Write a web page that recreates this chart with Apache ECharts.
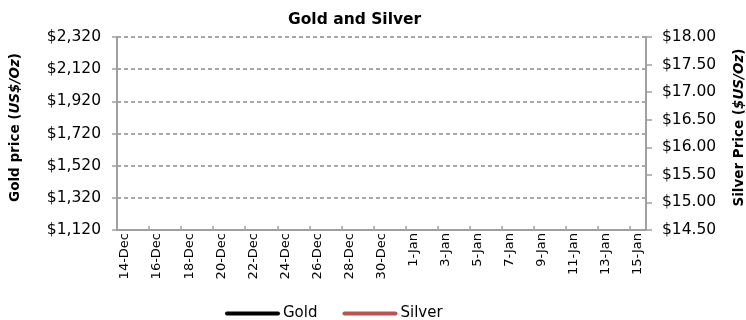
<!DOCTYPE html>
<html>
<head>
<meta charset="utf-8">
<script src="https://cdn.jsdelivr.net/npm/echarts@6/dist/echarts.min.js"></script>
<style>html,body{margin:0;padding:0;background:#fff}#c{width:746px;height:320px}</style>
</head>
<body>
<div id="c"></div>
<script>
var categories = ['14-Dec','15-Dec','16-Dec','17-Dec','18-Dec','19-Dec','20-Dec','21-Dec','22-Dec','23-Dec','24-Dec','25-Dec','26-Dec','27-Dec','28-Dec','29-Dec','30-Dec','31-Dec','1-Jan','2-Jan','3-Jan','4-Jan','5-Jan','6-Jan','7-Jan','8-Jan','9-Jan','10-Jan','11-Jan','12-Jan','13-Jan','14-Jan','15-Jan'];
var goldPrices = [];
var silverPrices = [];
var goldTicks = {min: 1120, max: 2320, interval: 200};
var silverTicks = {min: 14.5, max: 18, interval: 0.5};

var FONT = '"DejaVu Sans", Verdana, sans-serif';
var CAPSULE = 'path://M2,0 L53,0 A2,2 0 0 1 53,4 L2,4 A2,2 0 0 1 2,0 Z';
var chart = echarts.init(document.getElementById('c'), null, {renderer: 'canvas'});
chart.setOption({
  animation: false,
  title: {
    text: 'Gold and Silver', left: 283, top: 7,
    textStyle: {fontFamily: FONT, fontSize: 15.5, fontWeight: 'bold', color: '#000'}
  },
  legend: {
    top: 301, left: 220, itemGap: 25, itemWidth: 55, itemHeight: 4,
    icon: CAPSULE,
    textStyle: {fontFamily: FONT, fontSize: 15, color: '#000', padding: [0, 0, 0, -2]},
    data: [{name: 'Gold', itemStyle: {color: '#000000'}}, {name: 'Silver', itemStyle: {color: '#C0504D'}}]
  },
  grid: {left: 117, right: 100, top: 37, bottom: 90, containLabel: false, outerBoundsMode: 'none'},
  xAxis: {
    type: 'category', data: categories, boundaryGap: true,
    axisLine: {lineStyle: {color: '#A0A0A0', width: 2}},
    axisTick: {show: true, interval: 1, inside: true, length: 4, lineStyle: {color: '#A0A0A0', width: 1.5}},
    axisLabel: {interval: 1, rotate: 90, fontFamily: FONT, fontSize: 13, color: '#000', margin: 3},
    splitLine: {show: false}
  },
  yAxis: [{
    type: 'value', position: 'left',
    min: goldTicks.min, max: goldTicks.max, interval: goldTicks.interval,
    name: '{b|Gold price (}{bi|US$/Oz}{b|)}', nameLocation: 'middle', nameRotate: 90, nameGap: 95,
    nameTextStyle: {padding: [0, 0, 0, 12], rich: {
      b: {fontFamily: FONT, fontSize: 13.5, fontWeight: 'bold', color: '#000'},
      bi: {fontFamily: FONT, fontSize: 13.5, fontWeight: 'bold', fontStyle: 'italic', color: '#000'}
    }},
    axisLine: {show: true, lineStyle: {color: '#A0A0A0', width: 2}},
    axisTick: {show: true, length: 5, lineStyle: {color: '#A0A0A0', width: 1.5}},
    axisLabel: {fontFamily: FONT, fontSize: 15.5, color: '#000', margin: 16,
      formatter: function (v) { return '$' + v.toLocaleString('en-US'); }},
    splitLine: {show: true, lineStyle: {color: '#8A8A8A', width: 1.5, type: [4, 3]}}
  }, {
    type: 'value', position: 'right',
    min: silverTicks.min, max: silverTicks.max, interval: silverTicks.interval,
    name: '{b|Silver Price (}{bi|$US/Oz}{b|)}', nameLocation: 'middle', nameRotate: 90, nameGap: 86,
    nameTextStyle: {padding: [0, 0, 0, 12], rich: {
      b: {fontFamily: FONT, fontSize: 13.5, fontWeight: 'bold', color: '#000'},
      bi: {fontFamily: FONT, fontSize: 13.5, fontWeight: 'bold', fontStyle: 'italic', color: '#000'}
    }},
    axisLine: {show: true, lineStyle: {color: '#A0A0A0', width: 2}},
    axisTick: {show: true, length: 6, lineStyle: {color: '#A0A0A0', width: 1.5}},
    axisLabel: {fontFamily: FONT, fontSize: 15.5, color: '#000', margin: 16,
      formatter: function (v) { return '$' + v.toFixed(2); }},
    splitLine: {show: false}
  }],
  series: [
    {name: 'Gold', type: 'line', yAxisIndex: 0, data: goldPrices, showSymbol: false, lineStyle: {color: '#000000', width: 3}, itemStyle: {color: '#000000'}},
    {name: 'Silver', type: 'line', yAxisIndex: 1, data: silverPrices, showSymbol: false, lineStyle: {color: '#C0504D', width: 3}, itemStyle: {color: '#C0504D'}}
  ]
});
</script>
</body>
</html>
